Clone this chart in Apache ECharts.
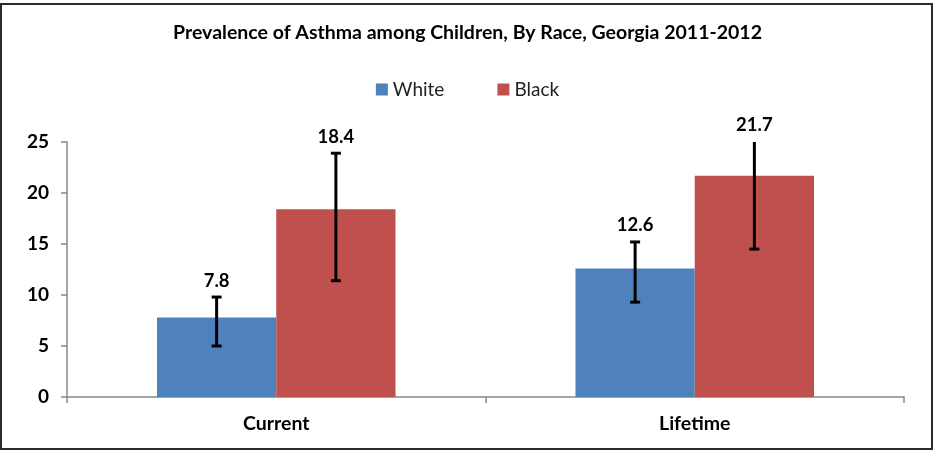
<!DOCTYPE html>
<html>
<head>
<meta charset="utf-8">
<script src="https://cdn.jsdelivr.net/npm/echarts@6/dist/echarts.min.js"></script>
<style>
html,body{margin:0;padding:0;background:#fff;}
#chart{width:935px;height:454px;}
</style>
</head>
<body>
<div id="chart"></div>
<script>
var titleText = 'Prevalence of Asthma among Children, By Race, Georgia 2011-2012';
var categories = ['Current', 'Lifetime'];
var seriesNames = ['White', 'Black'];
var whiteValues = [7.8, 12.6];
var blackValues = [18.4, 21.7];
var whiteLow = [5.0, 9.3];
var whiteHigh = [9.8, 15.2];
var blackLow = [11.4, 14.5];
var blackHigh = [23.9, 25.0];
var yTicks = [0, 5, 10, 15, 20, 25];

var FONT = 'Lato';
var yMin = yTicks[0], yMax = yTicks[yTicks.length - 1], yStep = yTicks[1] - yTicks[0];
var CAT_GAP = 0.43;

function errorSeries(name, values, lows, highs, side) {
  var data = values.map(function (v, i) { return [i, v, lows[i], highs[i]]; });
  return {
    type: 'custom',
    name: name + ' error',
    z: 10,
    silent: true,
    clip: false,
    data: data,
    encode: { x: 0, y: [1, 2, 3] },
    renderItem: function (params, api) {
      var idx = api.value(0);
      var band = api.size([1, 0])[0];
      var barW = band * (1 - CAT_GAP) / 2;
      var c = api.coord([idx, 0]);
      var x = c[0] + side * barW / 2;
      var hiVal = Math.min(api.value(3), yMax);
      var lo = api.coord([idx, api.value(2)])[1];
      var hi = api.coord([idx, hiVal])[1];
      var capW = 5;
      var st = { stroke: '#000', lineWidth: 3 };
      var children = [
        { type: 'line', shape: { x1: x, y1: lo, x2: x, y2: hi }, style: st },
        { type: 'line', shape: { x1: x - capW, y1: lo, x2: x + capW, y2: lo }, style: st }
      ];
      if (api.value(3) < yMax) {
        children.push({ type: 'line', shape: { x1: x - capW, y1: hi, x2: x + capW, y2: hi }, style: st });
      }
      children.push({
        type: 'text',
        style: {
          text: String(api.value(1)),
          x: x, y: hi - 7,
          align: 'center', verticalAlign: 'bottom',
          fontFamily: FONT, fontWeight: 'bold', fontSize: 18.5, fill: '#000'
        }
      });
      return { type: 'group', children: children };
    }
  };
}

var chart = echarts.init(document.getElementById('chart'), null, { renderer: 'canvas' });
chart.setOption({
  backgroundColor: '#fff',
  animation: false,
  title: {
    text: titleText,
    left: 'center',
    top: 18,
    textStyle: { fontFamily: FONT, fontWeight: 'bold', fontSize: 19.5, color: '#000' }
  },
  legend: {
    data: seriesNames,
    top: 75,
    left: 'center',
    itemWidth: 12,
    itemHeight: 12,
    itemGap: 53,
    icon: 'rect',
    textStyle: { fontFamily: FONT, fontSize: 19, color: '#222' }
  },
  grid: { left: 67, right: 31, top: 142, bottom: 57 },
  xAxis: {
    type: 'category',
    data: categories,
    boundaryGap: true,
    axisLine: { lineStyle: { color: '#888', width: 1.5 } },
    axisTick: { show: true, length: 6, lineStyle: { color: '#888', width: 1.5 } },
    axisLabel: { fontFamily: FONT, fontWeight: 'bold', fontSize: 19.5, color: '#000', margin: 17 }
  },
  yAxis: {
    type: 'value',
    min: yMin, max: yMax, interval: yStep,
    axisLine: { show: true, lineStyle: { color: '#888', width: 1.5 } },
    axisTick: { show: true, length: 6, lineStyle: { color: '#888', width: 1.5 } },
    splitLine: { show: false },
    axisLabel: { fontFamily: FONT, fontWeight: 'bold', fontSize: 19, color: '#000', margin: 18 }
  },
  graphic: [{
    type: 'rect',
    shape: { x: 1, y: 4, width: 931, height: 445 },
    style: { fill: 'none', stroke: '#2a2a2a', lineWidth: 2 },
    z: 100
  }],
  series: [
    {
      name: seriesNames[0], type: 'bar', data: whiteValues,
      barGap: '0%', barCategoryGap: (CAT_GAP * 100) + '%',
      itemStyle: { color: '#4F81BD' }
    },
    {
      name: seriesNames[1], type: 'bar', data: blackValues,
      barGap: '0%', barCategoryGap: (CAT_GAP * 100) + '%',
      itemStyle: { color: '#C0504D' }
    },
    errorSeries(seriesNames[0], whiteValues, whiteLow, whiteHigh, -1),
    errorSeries(seriesNames[1], blackValues, blackLow, blackHigh, 1)
  ]
});
</script>
</body>
</html>
